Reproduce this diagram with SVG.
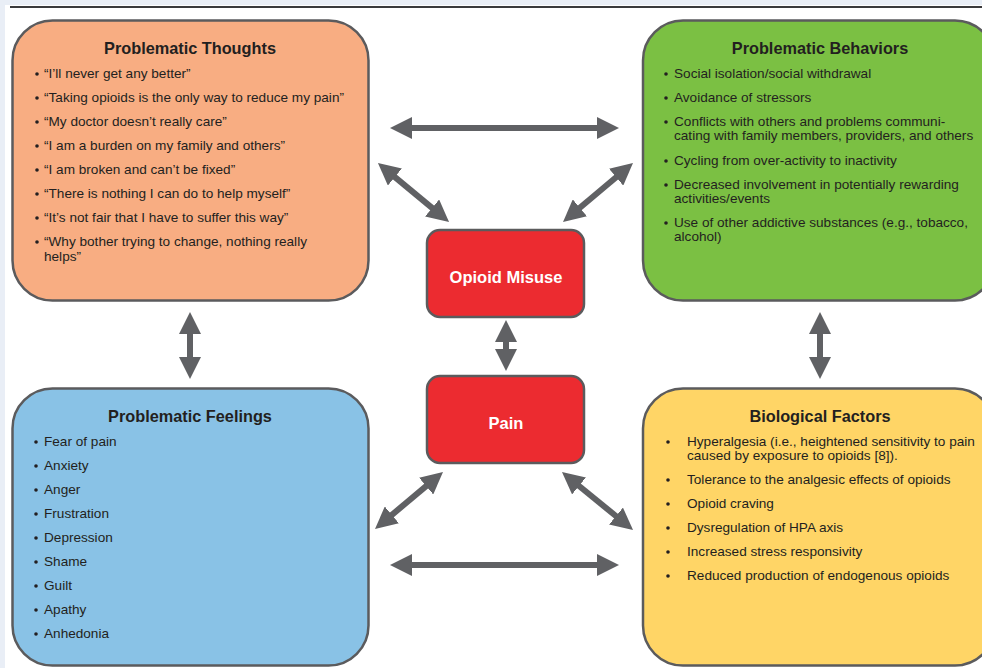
<svg xmlns="http://www.w3.org/2000/svg" width="982" height="668" viewBox="0 0 982 668">
<defs>
<style>
.bg{fill:#e9eef6}
.box{stroke:#5b5b5d;stroke-width:2.5}
.title{font-family:"Liberation Sans",Arial,sans-serif;font-weight:bold;font-size:16.3px;fill:#231f20;text-anchor:middle}
.item{font-family:"Liberation Sans",Arial,sans-serif;font-size:13.6px;fill:#231f20}
.bul{fill:#231f20}
.ctext{font-family:"Liberation Sans",Arial,sans-serif;font-weight:bold;font-size:16.5px;fill:#ffffff;text-anchor:middle}
.arr{stroke:#606164;stroke-width:6;fill:none;marker-start:url(#head);marker-end:url(#head)}
</style>
<marker id="head" markerUnits="userSpaceOnUse" markerWidth="22" markerHeight="22" refX="7" refY="11" orient="auto-start-reverse" viewBox="0 0 22 22">
<path d="M0,0 L22,11 L0,22 Z" fill="#606164"/>
</marker>
</defs>
<rect x="0" y="0" width="982" height="668" fill="#ffffff"/>
<rect class="bg" x="0" y="0" width="982" height="5"/>
<rect class="bg" x="0" y="0" width="5" height="668"/>
<line x1="10" y1="7" x2="982" y2="7" stroke="#3a3a3c" stroke-width="2"/>

<g id="thoughts">
<rect class="box" x="12.5" y="20.5" width="356" height="280" rx="40" fill="#f8ad82"/>
<text class="title" x="190" y="54">Problematic Thoughts</text>
<g class="bul"><circle cx="37" cy="74" r="1.8"/><circle cx="37" cy="98" r="1.8"/><circle cx="37" cy="122" r="1.8"/><circle cx="37" cy="146" r="1.8"/><circle cx="37" cy="170" r="1.8"/><circle cx="37" cy="194" r="1.8"/><circle cx="37" cy="218" r="1.8"/><circle cx="37" cy="242" r="1.8"/></g>
<text class="item" x="44" y="78">“I’ll never get any better”</text>
<text class="item" x="44" y="102">“Taking opioids is the only way to reduce my pain”</text>
<text class="item" x="44" y="126">“My doctor doesn’t really care”</text>
<text class="item" x="44" y="150">“I am a burden on my family and others”</text>
<text class="item" x="44" y="174">“I am broken and can’t be fixed”</text>
<text class="item" x="44" y="198">“There is nothing I can do to help myself”</text>
<text class="item" x="44" y="222">“It’s not fair that I have to suffer this way”</text>
<text class="item" x="44" y="246">“Why bother trying to change, nothing really</text>
<text class="item" x="44" y="261">helps”</text>
</g>

<g id="behaviors">
<rect class="box" x="643" y="20.5" width="352" height="280" rx="40" fill="#7bc043"/>
<text class="title" x="820" y="54">Problematic Behaviors</text>
<g class="bul"><circle cx="666" cy="74" r="1.8"/><circle cx="666" cy="98" r="1.8"/><circle cx="666" cy="122" r="1.8"/><circle cx="666" cy="161" r="1.8"/><circle cx="666" cy="185" r="1.8"/><circle cx="666" cy="223" r="1.8"/></g>
<text class="item" x="674" y="78">Social isolation/social withdrawal</text>
<text class="item" x="674" y="102">Avoidance of stressors</text>
<text class="item" x="674" y="126">Conflicts with others and problems communi-</text>
<text class="item" x="674" y="140">cating with family members, providers, and others</text>
<text class="item" x="674" y="165">Cycling from over-activity to inactivity</text>
<text class="item" x="674" y="189">Decreased involvement in potentially rewarding</text>
<text class="item" x="674" y="203">activities/events</text>
<text class="item" x="674" y="227">Use of other addictive substances (e.g., tobacco,</text>
<text class="item" x="674" y="241">alcohol)</text>
</g>

<g id="feelings">
<rect class="box" x="12.5" y="388.5" width="356" height="277" rx="40" fill="#89c2e6"/>
<text class="title" x="190" y="422">Problematic Feelings</text>
<g class="bul"><circle cx="36" cy="442" r="1.8"/><circle cx="36" cy="466" r="1.8"/><circle cx="36" cy="490" r="1.8"/><circle cx="36" cy="514" r="1.8"/><circle cx="36" cy="538" r="1.8"/><circle cx="36" cy="562" r="1.8"/><circle cx="36" cy="586" r="1.8"/><circle cx="36" cy="610" r="1.8"/><circle cx="36" cy="634" r="1.8"/></g>
<text class="item" x="44" y="446">Fear of pain</text>
<text class="item" x="44" y="470">Anxiety</text>
<text class="item" x="44" y="494">Anger</text>
<text class="item" x="44" y="518">Frustration</text>
<text class="item" x="44" y="542">Depression</text>
<text class="item" x="44" y="566">Shame</text>
<text class="item" x="44" y="590">Guilt</text>
<text class="item" x="44" y="614">Apathy</text>
<text class="item" x="44" y="638">Anhedonia</text>
</g>

<g id="biological">
<rect class="box" x="643" y="388.5" width="352" height="277" rx="40" fill="#ffd566"/>
<text class="title" x="820" y="422">Biological Factors</text>
<g class="bul"><circle cx="668" cy="442" r="1.8"/><circle cx="668" cy="480" r="1.8"/><circle cx="668" cy="504" r="1.8"/><circle cx="668" cy="528" r="1.8"/><circle cx="668" cy="552" r="1.8"/><circle cx="668" cy="576" r="1.8"/></g>
<text class="item" x="687" y="446">Hyperalgesia (i.e., heightened sensitivity to pain</text>
<text class="item" x="687" y="460">caused by exposure to opioids [8]).</text>
<text class="item" x="687" y="484">Tolerance to the analgesic effects of opioids</text>
<text class="item" x="687" y="508">Opioid craving</text>
<text class="item" x="687" y="532">Dysregulation of HPA axis</text>
<text class="item" x="687" y="556">Increased stress responsivity</text>
<text class="item" x="687" y="580">Reduced production of endogenous opioids</text>
</g>

<g id="opioid-misuse">
<rect class="box" x="427" y="230" width="157" height="87" rx="13" fill="#ec2b30"/>
<text class="ctext" x="506" y="283">Opioid Misuse</text>
</g>

<g id="pain">
<rect class="box" x="427" y="376" width="157" height="87" rx="13" fill="#ec2b30"/>
<text class="ctext" x="506" y="429">Pain</text>
</g>

<g id="connectors">
<line class="arr" x1="405" y1="128" x2="604" y2="128"/>
<line class="arr" x1="405" y1="565" x2="604" y2="565"/>
<line class="arr" x1="389.5" y1="172.6" x2="437.5" y2="212.4"/>
<line class="arr" x1="574.5" y1="212.3" x2="621.5" y2="172.7"/>
<line class="arr" x1="431.5" y1="481.6" x2="386.5" y2="519.4"/>
<line class="arr" x1="573.6" y1="481.5" x2="621.4" y2="520.5"/>
<line class="arr" x1="506" y1="335" x2="506" y2="356"/>
<line class="arr" x1="190" y1="327" x2="190" y2="364"/>
<line class="arr" x1="820" y1="327" x2="820" y2="364"/>
</g>
</svg>
